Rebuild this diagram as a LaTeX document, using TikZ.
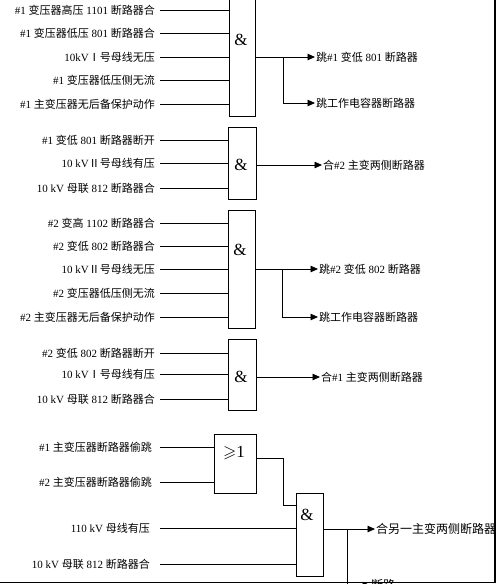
\documentclass[tikz,border=0pt]{standalone}
\usepackage{amssymb}
\usepackage{fontspec}
\setmainfont{Liberation Serif}
\newfontfamily\cjk{Noto Sans CJK SC}
\usetikzlibrary{arrows.meta,calc}
% CJK characters switch to \cjk by themselves
\XeTeXinterchartokenstate=1
\newXeTeXintercharclass\cjkcls
\newcount\cjkc
\cjkc="4E00
\loop\ifnum\cjkc<"A000 \XeTeXcharclass\cjkc=\cjkcls \advance\cjkc by 1 \repeat
\XeTeXcharclass"2160=\cjkcls
\XeTeXcharclass"2161=\cjkcls
\XeTeXinterchartoks 0 \cjkcls={\cjk}
\XeTeXinterchartoks 4095 \cjkcls={\cjk}
\XeTeXinterchartoks \cjkcls 0={\rmfamily}
\XeTeXinterchartoks \cjkcls 4095={\rmfamily}
\tikzset{
  gate/.style  ={draw,line width=0.9pt,inner sep=0pt,minimum width=27pt},
  sym/.style   ={inner sep=0pt,font=\fontsize{17}{17}\selectfont},
  inlbl/.style ={anchor=east,inner sep=0pt,font=\fontsize{11}{13}\selectfont},
  outlbl/.style={anchor=west,inner sep=1pt,font=\fontsize{11}{13}\selectfont},
  wire/.style  ={line width=0.8pt},
  sig/.style   ={wire,-{Triangle[length=7.5pt,width=6.5pt]}},
}
\begin{document}
\begin{tikzpicture}[x=1pt,y=-1pt]
\useasboundingbox (0,0) rectangle (496,584);
\clip (0,0) rectangle (496,584);

%% gate 1: trip #1 LV breaker
\node[gate,minimum width=26pt,minimum height=121pt] (g1) at (242,55.5) {};
\node[sym] (g1s) at (241,40) {\&};
\foreach \y/\t [count=\i] in {10/{\#1 变压器高压 1101 断路器合},33/{\#1 变压器低压 801 断路器合},
    57/{10kVⅠ号母线无压},80/{\#1 变压器低压侧无流},104/{\#1 主变压器无后备保护动作}} {
  \node[inlbl] (a\i) at (155,\y) {\t};
  \draw[wire] ([xshift=5pt]a\i.east) -- (a\i.east -| g1.west);
}
\node[outlbl] (o1) at (315,57) {跳\#1 变低 801 断路器};
\node[outlbl] (o2) at (315,103) {跳工作电容器断路器};
\coordinate (j1) at (283,57);
\draw[sig] (g1.east |- o1.west) -- (o1.west);
\draw[sig] (j1) |- (o2.west);

%% gate 2: close #2 transformer
\node[gate,minimum width=28pt,minimum height=72pt] (g2) at (242,163) {};
\node[sym] (g2s) at (241,165) {\&};
\foreach \y/\t [count=\i] in {140/{\#1 变低 801 断路器断开},163/{10 kVⅡ号母线有压},188/{10 kV 母联 812 断路器合}} {
  \node[inlbl] (b\i) at (155,\y) {\t};
  \draw[wire] ([xshift=5pt]b\i.east) -- (b\i.east -| g2.west);
}
\node[outlbl] (o3) at (322,165) {合\#2 主变两侧断路器};
\draw[sig] (g2.east |- o3.west) -- (o3.west);

%% gate 3: trip #2 LV breaker
\node[gate,minimum height=118pt] (g3) at (241.5,269) {};
\node[sym] (g3s) at (240,250) {\&};
\foreach \y/\t [count=\i] in {223/{\#2 变高 1102 断路器合},246/{\#2 变低 802 断路器合},
    269/{10 kVⅡ号母线无压},293/{\#2 变压器低压侧无流},317/{\#2 主变压器无后备保护动作}} {
  \node[inlbl] (c\i) at (155,\y) {\t};
  \draw[wire] ([xshift=5pt]c\i.east) -- (c\i.east -| g3.west);
}
\node[outlbl] (o4) at (318,269) {跳\#2 变低 802 断路器};
\node[outlbl] (o5) at (318,317) {跳工作电容器断路器};
\coordinate (j3) at (282,269);
\draw[sig] (g3.east |- o4.west) -- (o4.west);
\draw[sig] (j3) |- (o5.west);

%% gate 4: close #1 transformer
\node[gate,minimum width=28pt,minimum height=71pt] (g4) at (242,374.5) {};
\node[sym] (g4s) at (241,377) {\&};
\foreach \y/\t [count=\i] in {353/{\#2 变低 802 断路器断开},374/{10 kVⅠ号母线有压},399/{10 kV 母联 812 断路器合}} {
  \node[inlbl] (d\i) at (155,\y) {\t};
  \draw[wire] ([xshift=5pt]d\i.east) -- (d\i.east -| g4.west);
}
\node[outlbl] (o6) at (320,377) {合\#1 主变两侧断路器};
\draw[sig] (g4.east |- o6.west) -- (o6.west);

%% gates 5 and 6: stealing trip
\node[gate,minimum width=42pt,minimum height=59pt] (g5) at (235,463.5) {};
\node[sym] (g5s) at (234,453) {$\geqslant$1};
\foreach \y/\t [count=\i] in {447/{\#1 主变压器断路器偷跳},482/{\#2 主变压器断路器偷跳}} {
  \node[inlbl] (e\i) at (152,\y) {\t};
  \draw[wire] ([xshift=8pt]e\i.east) -- (e\i.east -| g5.west);
}
\node[gate,minimum height=83pt] (g6) at (309.5,534.5) {};
\node[sym] (g6s) at (307,515) {\&};
\coordinate (k5) at (283,505);
\draw[wire] ([yshift=5.5pt]g5.east) -| (k5) -- (k5 -| g6.west);
\foreach \y/\t [count=\i] in {528/{110 kV 母线有压},564/{10 kV 母联 812 断路器合}} {
  \node[inlbl] (f\i) at (150,\y) {\t};
  \draw[wire] ([xshift=10pt]f\i.east) -- (f\i.east -| g6.west);
}
\node[outlbl,font=\fontsize{12}{14}\selectfont] (o7) at (375,529) {合另一主变两侧断路器};
\node[outlbl,font=\fontsize{12}{14}\selectfont] (o8) at (370,585) {断路};
\coordinate (j6) at (347,529);
\draw[sig] (g6.east |- o7.west) -- (o7.west);
\draw[sig] (j6) |- (o8.west);

% page frame
\draw[line width=1.6pt] (0,582.6) -- (495.2,582.6) -- (495.2,0);
\end{tikzpicture}
\end{document}
